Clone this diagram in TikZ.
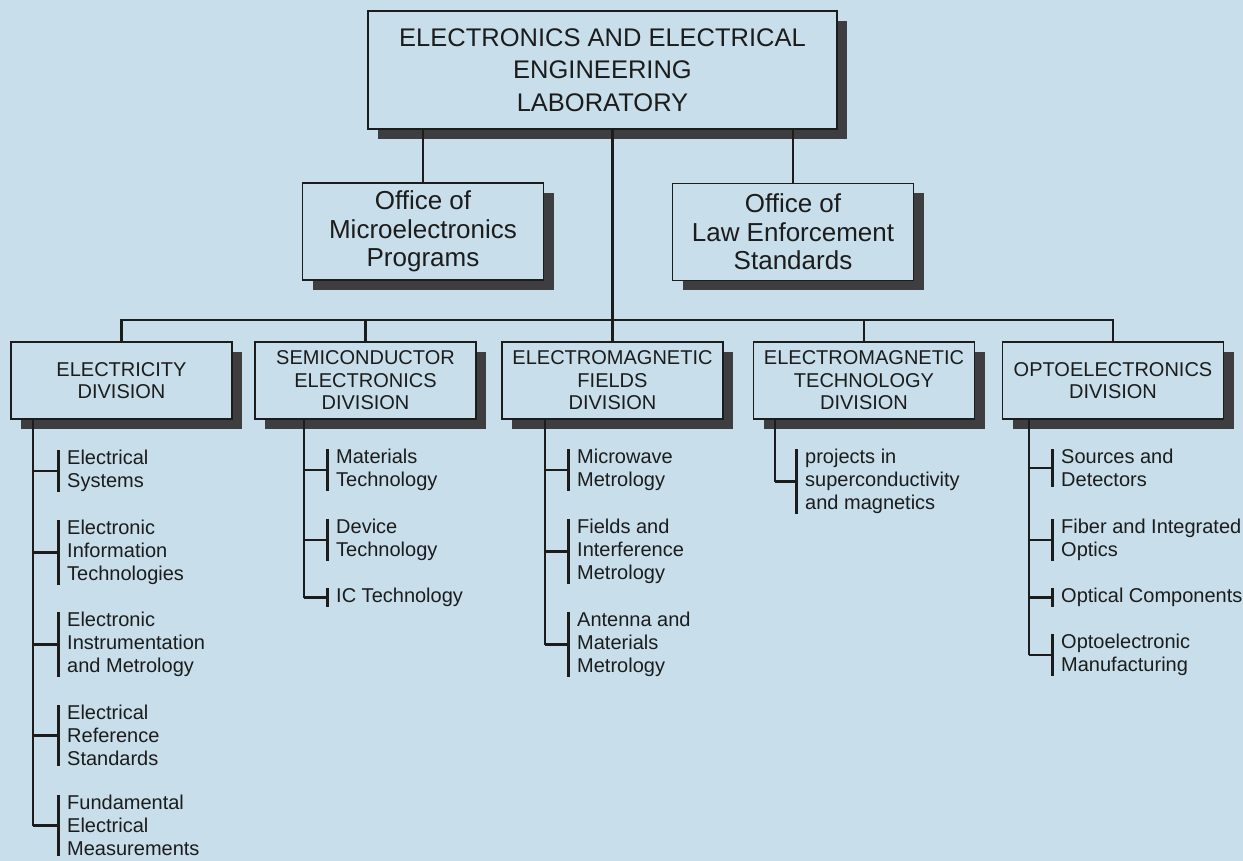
\documentclass[tikz,border=0pt]{standalone}
\usepackage{fontspec}
\setmainfont{Liberation Sans}
\usetikzlibrary{shadows}
\definecolor{bg}{RGB}{200,222,234}
\definecolor{ink}{RGB}{28,28,28}
\definecolor{shade}{RGB}{62,62,64}
\newcommand\leaf[4]{%
  \node[item] (#1) at (#3) {#4};
  \draw[bracket] ([xshift=-9pt]#1.north west) -- ([xshift=-9pt]#1.south west);
  \draw[conn] (#2 |- #1.west) -- ([xshift=-9pt]#1.west);
}
\begin{document}
\begin{tikzpicture}[x=1pt,y=-1pt,
  box/.style={draw=ink, line width=1.8pt, fill=bg, inner sep=0pt, align=center, text=ink,
    drop shadow={shadow xshift=10pt, shadow yshift=-10pt, fill=shade, opacity=1}},
  labbox/.style={box, minimum width=469pt, minimum height=118pt, font=\fontsize{25.5}{32.3}\selectfont},
  officebox/.style={box, minimum width=241pt, minimum height=97pt, font=\fontsize{26}{28.7}\selectfont},
  divbox/.style={box, minimum width=221pt, minimum height=77pt, font=\fontsize{20}{22.4}\selectfont},
  item/.style={anchor=north west, inner sep=0pt, align=left, text=ink, font=\fontsize{20}{23}\selectfont},
  conn/.style={draw=ink, line width=2.3pt},
  bracket/.style={draw=ink, line width=3pt},
]
\fill[bg] (0,0) rectangle (1243,861);
\useasboundingbox (0,0) rectangle (1243,861);

% laboratory and offices
\node[labbox] (lab) at (602.5,70) {ELECTRONICS AND ELECTRICAL\\ENGINEERING\\LABORATORY};
\node[officebox] (omp) at (423,231.5) {Office of\\Microelectronics\\Programs};
\node[officebox] (oles) at (793,232) {Office of\\Law Enforcement\\Standards};

% divisions
\node[divbox] (ed) at (121.5,380.5) {ELECTRICITY\\DIVISION};
\node[divbox] (sed) at (365.5,380.5) {SEMICONDUCTOR\\ELECTRONICS\\DIVISION};
\node[divbox] (emf) at (612.5,380.5) {ELECTROMAGNETIC\\FIELDS\\DIVISION};
\node[divbox] (emt) at (864,380.5) {ELECTROMAGNETIC\\TECHNOLOGY\\DIVISION};
\node[divbox] (opto) at (1113,380.5) {OPTOELECTRONICS\\DIVISION};

% top connectors
\coordinate (bus) at (612.5,320);
\draw[conn] (lab.south -| omp.north) -- (omp.north);
\draw[conn] (lab.south -| oles.north) -- (oles.north);
\draw[conn] (lab.south -| emf.north) -- (emf.north);
\draw[conn] (ed.north) |- (bus) -| (opto.north);
\draw[conn] (sed.north) -- (sed.north |- bus);
\draw[conn] (emt.north) -- (emt.north |- bus);

% spines
\coordinate (edsp) at (33,420);
\coordinate (sedsp) at (304,420);
\coordinate (emfsp) at (545,420);
\coordinate (emtsp) at (775,420);
\coordinate (optosp) at (1029,420);

% Electricity Division
\leaf{ed1}{edsp}{67,450}{Electrical\\Systems}
\leaf{ed2}{edsp}{67,520}{Electronic\\Information\\Technologies}
\leaf{ed3}{edsp}{67,612}{Electronic\\Instrumentation\\and Metrology}
\leaf{ed4}{edsp}{67,705}{Electrical\\Reference\\Standards}
\leaf{ed5}{edsp}{67,795}{Fundamental\\Electrical\\Measurements}
\draw[conn] (edsp) -- (edsp |- ed5.west);

% Semiconductor Electronics Division
\leaf{sed1}{sedsp}{336,449}{Materials\\Technology}
\leaf{sed2}{sedsp}{336,519}{Device\\Technology}
\leaf{sed3}{sedsp}{336,588}{IC Technology}
\draw[conn] (sedsp) -- (sedsp |- sed3.west);

% Electromagnetic Fields Division
\leaf{emf1}{emfsp}{577,449}{Microwave\\Metrology}
\leaf{emf2}{emfsp}{577,519}{Fields and\\Interference\\Metrology}
\leaf{emf3}{emfsp}{577,612}{Antenna and\\Materials\\Metrology}
\draw[conn] (emfsp) -- (emfsp |- emf3.west);

% Electromagnetic Technology Division
\leaf{emt1}{emtsp}{805,449}{projects in\\superconductivity\\and magnetics}
\draw[conn] (emtsp) -- (emtsp |- emt1.west);

% Optoelectronics Division
\leaf{opto1}{optosp}{1061,449}{Sources and\\Detectors}
\leaf{opto2}{optosp}{1061,519}{Fiber and Integrated\\Optics}
\leaf{opto3}{optosp}{1061,588}{Optical Components}
\leaf{opto4}{optosp}{1061,634}{Optoelectronic\\Manufacturing}
\draw[conn] (optosp) -- (optosp |- opto4.west);
\end{tikzpicture}
\end{document}
